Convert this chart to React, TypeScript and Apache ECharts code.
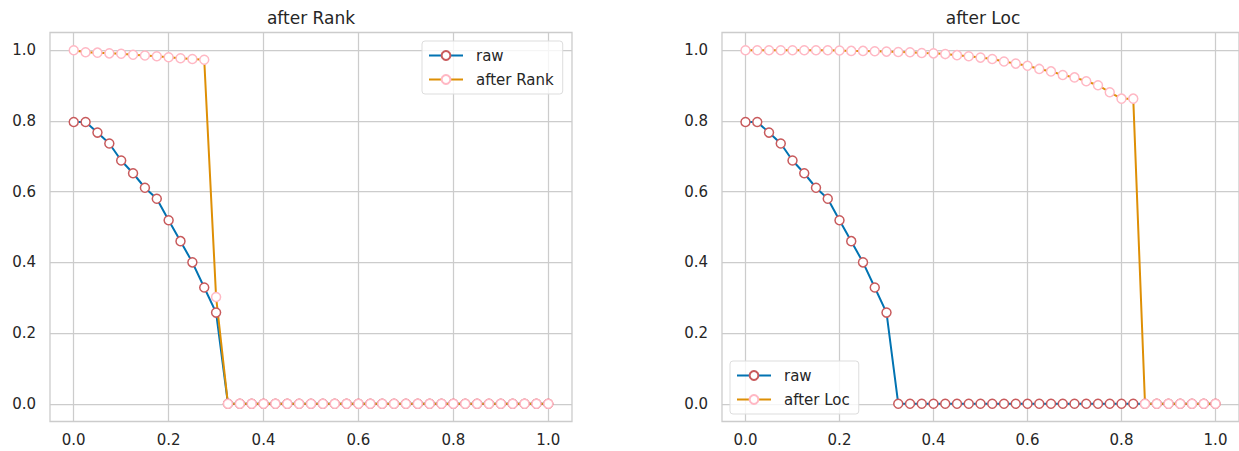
import React, { useEffect, useRef } from "react";
import * as echarts from "echarts";

const xValues = [
  0.0, 0.025, 0.05, 0.075, 0.1, 0.125, 0.15, 0.175, 0.2, 0.225,
  0.25, 0.275, 0.3, 0.325, 0.35, 0.375, 0.4, 0.425, 0.45, 0.475,
  0.5, 0.525, 0.55, 0.575, 0.6, 0.625, 0.65, 0.675, 0.7, 0.725,
  0.75, 0.775, 0.8, 0.825, 0.85, 0.875, 0.9, 0.925, 0.95, 0.975, 1.0,
];

const rawValues = [
  0.797, 0.797, 0.767, 0.736, 0.688, 0.652, 0.611, 0.58, 0.519, 0.46,
  0.4, 0.329, 0.258, 0, 0, 0, 0, 0, 0, 0,
  0, 0, 0, 0, 0, 0, 0, 0, 0, 0,
  0, 0, 0, 0, 0, 0, 0, 0, 0, 0, 0,
];

const afterRankValues = [
  1.0, 0.994, 0.993, 0.991, 0.99, 0.987, 0.985, 0.983, 0.98, 0.977,
  0.975, 0.973, 0.302, 0, 0, 0, 0, 0, 0, 0,
  0, 0, 0, 0, 0, 0, 0, 0, 0, 0,
  0, 0, 0, 0, 0, 0, 0, 0, 0, 0, 0,
];

const afterLocValues = [
  1.0, 1.0, 1.0, 1.0, 1.0, 1.0, 1.0, 1.0, 0.999, 0.998,
  0.998, 0.997, 0.996, 0.995, 0.994, 0.992, 0.991, 0.989, 0.986, 0.983,
  0.979, 0.975, 0.968, 0.962, 0.956, 0.947, 0.94, 0.93, 0.923, 0.912,
  0.901, 0.881, 0.863, 0.863, 0, 0, 0, 0, 0, 0, 0,
];

const tickValues = [0, 0.2, 0.4, 0.6, 0.8, 1.0];
const titles = ["after Rank", "after Loc"];

const FONT = "DejaVu Sans";
const TEXT = "#262626";
const GRIDC = "#cccccc";
const BLUE = "#0173b2";
const ORANGE = "#de8f05";
const RED = "#c85a5c";
const PINK = "#ffb8c4";

function pairs(ys: number[]) {
  return xValues.map((x, i) => [x, ys[i]]);
}

function makeAxis(gridIndex: number, isX: boolean) {
  return {
    type: "value",
    gridIndex,
    min: -0.05,
    max: 1.05,
    axisLine: { show: false },
    axisTick: { show: false, customValues: tickValues },
    axisLabel: {
      customValues: tickValues,
      formatter: (v: number) => v.toFixed(1),
      color: TEXT,
      fontFamily: FONT,
      fontSize: 15,
      margin: isX ? 11 : 14,
    },
    splitLine: { show: true, lineStyle: { color: GRIDC, width: 1.25 } },
  };
}

function lineSeries(name: string, ys: number[], idx: number, color: string, edge: string) {
  return {
    name,
    type: "line",
    xAxisIndex: idx,
    yAxisIndex: idx,
    data: pairs(ys),
    symbol: "circle",
    symbolSize: 9,
    showSymbol: true,
    lineStyle: { color, width: 2 },
    itemStyle: { color: "#ffffff", borderColor: edge, borderWidth: 1.5 },
    emphasis: { disabled: true },
  };
}

function legendFor(names: string[], left: number, top: number) {
  return {
    orient: "vertical",
    left,
    top,
    data: names,
    padding: [7, 9, 7, 6],
    itemWidth: 34,
    itemHeight: 11,
    itemGap: 9,
    backgroundColor: "rgba(255,255,255,0.8)",
    borderColor: "#dddddd",
    borderWidth: 1,
    borderRadius: 3,
    selectedMode: false,
    textStyle: { color: TEXT, fontFamily: FONT, fontSize: 15, padding: [0, 0, 0, 8] },
  };
}

export default function App() {
  const ref = useRef<HTMLDivElement>(null);
  useEffect(() => {
    if (!ref.current) return;
    const chart = echarts.init(ref.current, null, { renderer: "svg" });
    chart.setOption({
      animation: false,
      backgroundColor: "#ffffff",
      grid: [
        { left: 50, top: 32.5, width: 522, height: 389, show: true, borderColor: GRIDC, borderWidth: 1.3, backgroundColor: "transparent" },
        { left: 722, top: 32.5, width: 522, height: 389, show: true, borderColor: GRIDC, borderWidth: 1.3, backgroundColor: "transparent" },
      ],
      xAxis: [makeAxis(0, true), makeAxis(1, true)],
      yAxis: [makeAxis(0, false), makeAxis(1, false)],
      legend: [
        legendFor(["raw", titles[0]], 422, 41),
        legendFor(["raw", titles[1]], 730, 361),
      ],
      series: [
        lineSeries("raw", rawValues, 0, BLUE, RED),
        lineSeries(titles[0], afterRankValues, 0, ORANGE, PINK),
        lineSeries("raw", rawValues, 1, BLUE, RED),
        lineSeries(titles[1], afterLocValues, 1, ORANGE, PINK),
      ],
      graphic: [
        { type: "text", x: 311, y: 18, style: { text: titles[0], align: "center", verticalAlign: "middle", fill: TEXT, font: `17px "${FONT}"` } },
        { type: "text", x: 983, y: 18, style: { text: titles[1], align: "center", verticalAlign: "middle", fill: TEXT, font: `17px "${FONT}"` } },
      ],
    });
    return () => chart.dispose();
  }, []);
  return (
    <div
      ref={ref}
      style={{ position: "fixed", left: 0, top: 0, width: 1239, height: 451 }}
    />
  );
}
